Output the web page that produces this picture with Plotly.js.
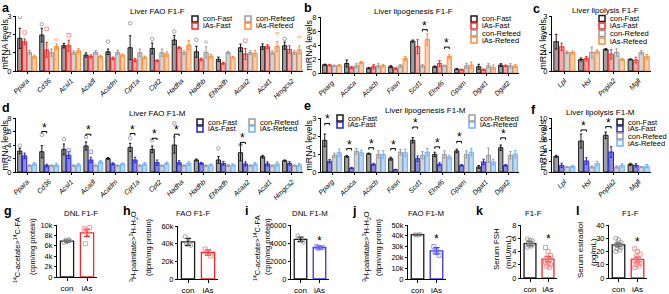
<!DOCTYPE html>
<html><head><meta charset="utf-8">
<script src="https://cdn.plot.ly/plotly-3.0.1.min.js"></script>
<style>html,body{margin:0;padding:0;background:#fff}#chart{width:669px;height:294px}</style>
</head><body><div id="chart"></div>
<script>
// ---------------- DATA ----------------
const genesFAO = ['Ppara','Cd36','Acsl1','Acadl','Acadm','Cpt1a','Cpt2','Hadha','Hadhb','Ehhadh','Acaa2','Acat1','Hmgcs2'];
const genesLipo = ['Pparg','Acaca','Acacb','Fasn','Scd1','Elovl6','Gpam','Dgat1','Dgat2'];
const genesLipol = ['Lpl','Hsl','Pnpla2','Mgll'];
const groupNames = ['con-Fast','iAs-Fast','con-Refeed','iAs-Refeed'];

// a: Liver FAO F1-F
const a_conFast = [1.78,1.96,1.38,0.87,1.05,1.27,1.23,1.69,1.05,0.64,1.27,1.33,1.38];
const a_conFast_se = [0.55,0.37,0.12,0.12,0.15,0.65,0.30,0.25,0.30,0.12,0.20,0.15,0.20];
const a_iasFast = [1.60,1.15,1.38,0.80,0.70,0.60,0.56,1.27,0.64,0.42,0.93,1.33,1.18];
const a_iasFast_se = [0.15,0.40,0.30,0.08,0.06,0.08,0.05,0.05,0.06,0.05,0.30,0.10,0.20];
const a_conRefeed = [1.02,1.00,1.00,1.02,1.02,1.00,1.00,1.00,1.02,1.00,1.00,1.00,1.00];
const a_conRefeed_se = [0.10,0.20,0.10,0.10,0.12,0.20,0.20,0.10,0.30,0.06,0.10,0.10,0.10];
const a_iasRefeed = [0.78,1.33,1.10,0.80,0.87,0.75,0.93,1.42,0.80,0.75,0.96,1.33,1.15];
const a_iasRefeed_se = [0.08,0.15,0.12,0.06,0.06,0.06,0.12,0.25,0.10,0.04,0.15,0.27,0.22];
// a: visible individual points above bars (gene, group index, value)
const a_ptGene = ['Ppara','Ppara','Cd36','Cd36','Cd36','Acsl1','Acadm','Cpt1a','Cpt2','Hadha','Hadhb','Hadhb','Acaa2','Acat1','Hmgcs2','Hmgcs2'];
const a_ptGroup = [0,1,0,1,3,1,0,0,0,0,0,2,1,3,0,3];
const a_ptVal = [2.95,2.1,2.55,2.3,1.7,1.95,1.6,2.6,1.75,2.15,1.7,1.6,1.65,2.05,1.75,1.85];

// b: Liver lipogenesis F1-F
const b_conFast = [1.18,1.36,0.70,0.90,4.56,0.90,0.56,0.90,1.13];
const b_conFast_se = [0.08,0.50,0.10,0.15,0.15,0.10,0.08,0.35,0.20];
const b_iasFast = [1.13,0.80,0.90,0.66,3.76,1.36,0.47,0.47,1.03];
const b_iasFast_se = [0.10,0.15,0.30,0.15,1.00,0.40,0.08,0.10,0.10];
const b_conRefeed = [1.03,1.03,1.03,1.03,1.03,1.03,1.03,1.03,1.03];
const b_conRefeed_se = [0.10,0.30,0.30,0.20,0.20,0.10,0.35,0.30,0.30];
const b_iasRefeed = [1.10,1.50,1.03,2.07,4.80,2.35,1.13,0.80,1.00];
const b_iasRefeed_se = [0.10,0.15,0.20,0.30,0.80,0.25,0.45,0.35,0.20];
const b_sig = [{gene:'Scd1',pair:[2,3],y:6.2},{gene:'Elovl6',pair:[2,3],y:3.7}];

// c: Liver lipolysis F1-F
const c_conFast = [1.60,0.63,1.18,0.63];
const c_conFast_se = [0.40,0.08,0.05,0.03];
const c_iasFast = [1.32,0.69,0.92,0.60];
const c_iasFast_se = [0.20,0.10,0.25,0.15];
const c_conRefeed = [1.01,1.01,1.01,1.01];
const c_conRefeed_se = [0.08,0.30,0.20,0.10];
const c_iasRefeed = [1.01,1.05,0.63,0.78];
const c_iasRefeed_se = [0.08,0.10,0.05,0.12];

// d: Liver FAO F1-M
const d_conFast = [3.10,3.00,3.35,3.85,2.00,3.65,3.35,4.00,1.78,1.78,2.86,2.27,1.68];
const d_conFast_se = [0.40,0.90,0.80,0.60,0.15,0.60,0.50,1.20,0.15,0.50,1.20,0.20,0.10];
const d_iasFast = [2.40,0.95,2.50,1.78,1.20,1.78,1.38,1.38,1.28,1.28,1.20,1.20,1.28];
const d_iasFast_se = [0.40,0.20,0.50,0.40,0.15,0.40,0.40,0.30,0.15,0.30,0.30,0.30,0.25];
const d_conRefeed = [0.95,0.95,0.95,0.95,0.95,0.95,0.95,0.95,0.95,0.95,0.95,0.95,0.95];
const d_conRefeed_se = [0.10,0.10,0.10,0.10,0.10,0.10,0.10,0.10,0.10,0.15,0.10,0.10,0.10];
const d_iasRefeed = [1.20,1.05,1.05,1.50,1.20,1.20,1.28,1.28,1.05,1.05,1.20,1.20,1.05];
const d_iasRefeed_se = [0.20,0.25,0.20,0.20,0.15,0.20,0.20,0.30,0.15,0.15,0.20,0.30,0.20];
const d_sig = [{gene:'Cd36',y:6.0},{gene:'Acadl',y:5.6},{gene:'Cpt1a',y:5.7},{gene:'Cpt2',y:5.0},{gene:'Hadha',y:5.6},{gene:'Acaa2',y:4.4}];
const d_ptGene = ['Ppara','Cd36','Acsl1','Acadl','Cpt1a','Cpt2','Hadha','Ehhadh','Acaa2','Acsl1','Acadl'];
const d_ptGroup = [0,0,0,0,0,0,0,0,0,1,1];
const d_ptVal = [3.9,5.5,4.9,5.2,5.0,4.7,7.2,3.5,4.0,3.2,3.0];

// e: Liver lipogenesis F1-M
const e_conFast = [1.76,0.87,1.02,0.74,1.76,0.98,1.17,0.28,1.35];
const e_conFast_se = [0.35,0.05,0.03,0.08,0.15,0.12,0.10,0.08,0.15];
const e_iasFast = [0.60,0.22,0.43,0.13,0.74,0.43,0.37,0.56,0.37];
const e_iasFast_se = [0.10,0.03,0.06,0.02,0.15,0.08,0.04,0.15,0.04];
const e_conRefeed = [0.93,1.15,0.98,1.10,0.93,0.98,0.98,0.93,0.93];
const e_conRefeed_se = [0.12,0.15,0.20,0.15,0.20,0.20,0.20,0.40,0.20];
const e_iasRefeed = [1.07,1.07,0.98,1.07,1.10,0.83,1.10,0.56,1.00];
const e_iasRefeed_se = [0.20,0.15,0.20,0.20,0.20,0.10,0.20,0.15,0.20];
const e_sig = [{gene:'Pparg',y:2.7},{gene:'Acaca',y:1.3},{gene:'Acacb',y:1.35},{gene:'Fasn',y:1.3},{gene:'Scd1',y:2.5},{gene:'Elovl6',y:1.4},{gene:'Gpam',y:1.7},{gene:'Dgat2',y:1.9}];

// f: Liver lipolysis F1-M
const f_conFast = [2.90,5.74,6.80,1.42];
const f_conFast_se = [0.20,1.30,0.60,0.20];
const f_iasFast = [1.23,2.04,3.70,1.23];
const f_iasFast_se = [0.40,0.60,1.00,0.30];
const f_conRefeed = [0.93,0.93,0.93,0.93];
const f_conRefeed_se = [0.10,0.20,0.20,0.10];
const f_iasRefeed = [1.05,1.54,1.23,1.10];
const f_iasRefeed_se = [0.20,0.40,0.30,0.30];
const f_sig = [{gene:'Hsl',y:7.8},{gene:'Pnpla2',y:8.4}];

// bottom row
const twoGroups = ['con','iAs'];
const g_mean = [6900, 8500], g_se = [200, 700];
const g_conPts = [6600, 6800, 7000, 7100, 7200], g_iasPts = [9300, 8800, 9500, 6400];
const h_mean = [42000, 30000], h_se = [4000, 3000];
const h_conPts = [48000, 43000, 38000, 39000], h_iasPts = [34000, 30000, 26000];
const i_mean = [4400, 3500], i_se = [250, 150];
const i_conPts = [4800, 4400, 4100], i_iasPts = [3600, 3450, 3500, 3450];
const j_mean = [41000, 26000], j_se = [300, 3000];
const j_conPts = [41000, 40800, 41200], j_iasPts = [30000, 26000, 22000, 25000];
const k_mean = [5.2, 2.85], k_se = [0.3, 0.4];
const k_conPts = [5.9,5.7,5.6,5.4,5.3,5.2,5.1,5.0,4.9,4.8,4.6], k_iasPts = [4.6,4.0,3.4,3.0,2.7,2.4,2.2,2.0,1.8,1.6];
const l_mean = [25, 14], l_se = [1.3, 1.8];
const l_conPts = [30,29,27,26,25,25,24,23,22,21,20], l_iasPts = [22,20,18,16,14,13,12,11,10,9,8];

// ---------------- STYLE / LAYOUT ----------------
const W = 669, H = 294;
const FONT = '"Liberation Sans", Arial, Helvetica, sans-serif';
const fx = p => p / W, fy = p => 1 - p / H;
const COL = {conFast:'#1a1a1a', iasFastF:'#ff2424', conRefeed:'#9a9a9a', iasRefeedF:'#ff8a30', iasFastM:'#2525d8', iasRefeedM:'#6cb0ff'};
const FILL = {conFast:'rgba(80,80,80,0.55)', iasFastF:'rgba(255,60,60,0.45)', conRefeed:'rgba(160,160,160,0.45)', iasRefeedF:'rgba(255,150,80,0.45)', iasFastM:'rgba(40,40,220,0.55)', iasRefeedM:'rgba(110,180,255,0.5)'};
const PTC = {conFast:'#8c8c8c', iasFastF:'#ff8080', conRefeed:'#b5b5b5', iasRefeedF:'#ffb070', iasFastM:'#8080ff', iasRefeedM:'#8cc4ff'};
const SYM = ['circle-open','square-open','triangle-up-open','triangle-down-open'];
const keysF = ['conFast','iasFastF','conRefeed','iasRefeedF'];
const keysM = ['conFast','iasFastM','conRefeed','iasRefeedM'];
const OFFS = [-0.33,-0.11,0.11,0.33], BW = 0.19;

const traces = [], shapes = [], annotations = [];
const layout = {width:W, height:H, margin:{l:0,r:0,t:0,b:0}, paper_bgcolor:'#fff', plot_bgcolor:'rgba(0,0,0,0)',
  showlegend:false, barmode:'overlay', font:{family:FONT, color:'#000', size:8}, shapes, annotations};

function ids(n){ return n===1 ? {x:'x',y:'y',xa:'xaxis',ya:'yaxis'} : {x:'x'+n,y:'y'+n,xa:'xaxis'+n,ya:'yaxis'+n}; }
const axBase = {showgrid:false, zeroline:false, showline:true, linecolor:'#000', linewidth:1, ticks:'outside', ticklen:3, tickwidth:1, tickcolor:'#000', fixedrange:true};

function setAxes(n, box, cats, yr, dtick, rotated){
  const a = ids(n);
  layout[a.xa] = Object.assign({}, axBase, {domain:[fx(box[0]), fx(box[1])], range:[-0.5, cats.length-0.5], anchor:a.y,
    tickmode:'array', tickvals:cats.map((_,i)=>i), ticktext:cats,
    tickangle: rotated ? -45 : 0, ticklen: rotated ? 2 : 3,
    tickfont: rotated ? {size:7, family:FONT, style:'italic', color:'#000'} : {size:8, family:FONT, color:'#000'}});
  layout[a.ya] = Object.assign({}, axBase, {domain:[fy(box[3]), fy(box[2])], range:yr, anchor:a.x, tick0:0, dtick:dtick, ticklen:2,
    tickfont:{size:7.5, family:FONT, color:'#000'}});
  return a;
}

function groupPanel(n, box, genes, vals, ses, keys, yr, dtick){
  const a = setAxes(n, box, genes, yr, dtick, true);
  vals.forEach((v,k)=>{
    traces.push({type:'bar', xaxis:a.x, yaxis:a.y, name:groupNames[k], x:genes.map((_,i)=>i+OFFS[k]), y:v, width:BW,
      marker:{color:FILL[keys[k]], line:{color:COL[keys[k]], width:1}},
      error_y:{type:'data', array:ses[k], visible:true, color:COL[keys[k]], thickness:1, width:1.2}});
  });
  return a;
}

function groupPoints(a, genes, ptGene, ptGroup, ptVal, keys){
  [0,1,2,3].forEach(k=>{
    const idx = ptGroup.map((g,j)=>g===k?j:-1).filter(j=>j>=0);
    if (!idx.length) return;
    traces.push({type:'scatter', mode:'markers', xaxis:a.x, yaxis:a.y,
      x: idx.map(j=>genes.indexOf(ptGene[j]) + OFFS[k]), y: idx.map(j=>ptVal[j]),
      marker:{symbol:SYM[k], size:3.5, color:PTC[keys[k]], line:{width:0.8}}});
  });
}

function sig(a, genes, list, yr){
  const h = (yr[1]-yr[0]) * 0.035;
  list.forEach(s=>{
    const pr = s.pair || [0,1];
    const i = genes.indexOf(s.gene);
    const x1 = i + OFFS[pr[0]], x2 = i + OFFS[pr[1]];
    shapes.push({type:'path', xref:a.x, yref:a.y, path:`M${x1},${s.y-h} L${x1},${s.y} L${x2},${s.y} L${x2},${s.y-h}`, line:{color:'#000', width:1}});
    annotations.push({xref:a.x, yref:a.y, x:(x1+x2)/2, y:s.y, text:'*', showarrow:false, yanchor:'bottom', yshift:-5, font:{size:12, color:'#000'}});
  });
}

function twoBarPanel(n, box, mean, se, yr, dtick, colCon, colIas, ptCon, ptIas, conPts, iasPts, star){
  const a = setAxes(n, box, twoGroups, yr, dtick, false);
  const cols = [colCon, colIas];
  [0,1].forEach(i=>{
    traces.push({type:'bar', xaxis:a.x, yaxis:a.y, x:[i], y:[mean[i]], width:0.66,
      marker:{color:'rgba(255,255,255,0)', line:{color:cols[i], width:1.3}},
      error_y:{type:'data', array:[se[i]], visible:true, color:cols[i], thickness:1.3, width:3}});
  });
  const jit = [-0.14, 0.0, 0.14, -0.07, 0.07];
  traces.push({type:'scatter', mode:'markers', xaxis:a.x, yaxis:a.y, x:conPts.map((_,j)=>0+jit[j%5]), y:conPts,
    marker:{symbol:'circle-open', size:4, color:ptCon, line:{width:0.8}}});
  traces.push({type:'scatter', mode:'markers', xaxis:a.x, yaxis:a.y, x:iasPts.map((_,j)=>1+jit[j%5]), y:iasPts,
    marker:{symbol:'square-open', size:4, color:ptIas, line:{width:0.8}}});
  if (star !== undefined) annotations.push({xref:a.x, yref:a.y, x:1, y:star, text:'*', showarrow:false, yanchor:'bottom', yshift:-5, font:{size:12,color:'#000'}});
}

// ---------------- PANELS ----------------
const yrA=[0,3], yrB=[0,8], yrC=[0,3], yrD=[0,8], yrE=[0,3], yrF=[0,10];
const pa = groupPanel(1, [16,303,16,71], genesFAO, [a_conFast,a_iasFast,a_conRefeed,a_iasRefeed], [a_conFast_se,a_iasFast_se,a_conRefeed_se,a_iasRefeed_se], keysF, yrA, 1);
const pb = groupPanel(2, [321,519,17,73], genesLipo, [b_conFast,b_iasFast,b_conRefeed,b_iasRefeed], [b_conFast_se,b_iasFast_se,b_conRefeed_se,b_iasRefeed_se], keysF, yrB, 2);
const pc = groupPanel(3, [552,651,16,71], genesLipol, [c_conFast,c_iasFast,c_conRefeed,c_iasRefeed], [c_conFast_se,c_iasFast_se,c_conRefeed_se,c_iasRefeed_se], keysF, yrC, 1);
const pd = groupPanel(4, [16,303,118,172], genesFAO, [d_conFast,d_iasFast,d_conRefeed,d_iasRefeed], [d_conFast_se,d_iasFast_se,d_conRefeed_se,d_iasRefeed_se], keysM, yrD, 2);
const pe = groupPanel(5, [321,519,118,172], genesLipo, [e_conFast,e_iasFast,e_conRefeed,e_iasRefeed], [e_conFast_se,e_iasFast_se,e_conRefeed_se,e_iasRefeed_se], keysM, yrE, 1);
const pf = groupPanel(6, [552,651,118,172], genesLipol, [f_conFast,f_iasFast,f_conRefeed,f_iasRefeed], [f_conFast_se,f_iasFast_se,f_conRefeed_se,f_iasRefeed_se], keysM, yrF, 2);
groupPoints(pa, genesFAO, a_ptGene, a_ptGroup, a_ptVal, keysF);
groupPoints(pd, genesFAO, d_ptGene, d_ptGroup, d_ptVal, keysM);
sig(pb, genesLipo, b_sig, yrB);
sig(pd, genesFAO, d_sig, yrD);
sig(pe, genesLipo, e_sig, yrE);
sig(pf, genesLipol, f_sig, yrF);

twoBarPanel(7,  [57,97,225,277],   g_mean, g_se, [0,10000], 2000,  '#1a1a1a', '#ff2424', '#8a8a8a', '#ff7a7a', g_conPts, g_iasPts);
twoBarPanel(8,  [178,218,226,279], h_mean, h_se, [0,60000], 20000, '#1a1a1a', '#ff2424', '#8a8a8a', '#ff7a7a', h_conPts, h_iasPts);
twoBarPanel(9,  [291,329,225,279], i_mean, i_se, [0,6000],  2000,  '#1a1a1a', '#3535e0', '#8a8a8a', '#7a7aff', i_conPts, i_iasPts, 3750);
twoBarPanel(10, [408,446,225,279], j_mean, j_se, [0,50000], 10000, '#1a1a1a', '#3535e0', '#8a8a8a', '#7a7aff', j_conPts, j_iasPts, 33000);
twoBarPanel(11, [521,557,225,278], k_mean, k_se, [0,8],     2,     '#1a1a1a', '#ff2424', '#8a8a8a', '#ff7a7a', k_conPts, k_iasPts, 5.3);
twoBarPanel(12, [609,647,225,278], l_mean, l_se, [0,40],    10,    '#1a1a1a', '#ff2424', '#8a8a8a', '#ff7a7a', l_conPts, l_iasPts, 24.5);

// ---------------- TEXT (paper) ----------------
function txt(x, y, text, size, opts){
  annotations.push(Object.assign({xref:'paper', yref:'paper', x:fx(x), y:fy(y), text:text, showarrow:false,
    xanchor:'center', yanchor:'middle', font:{size:size, family:FONT, color:'#000'}}, opts||{}));
}
function ytitle(x, y, text, size){ txt(x, y, text, size||8, {textangle:-90}); }
function letter(x, y, t){ txt(x, y, '<b>'+t+'</b>', 12.5, {xanchor:'left'}); }

letter(0,8,'a'); letter(302,8,'b'); letter(531,9,'c');
letter(0,108,'d'); letter(302,106,'e'); letter(529,110,'f');
letter(2,211,'g'); letter(121,211,'h'); letter(243,211,'i'); letter(350,211,'j'); letter(474,211,'k'); letter(574,211,'l');

txt(157,11,'Liver FAO F1-F',8); txt(413,11,'Liver lipogenesis F1-F',8); txt(605,10.5,'Liver lipolysis F1-F',8);
txt(157,113,'Liver FAO F1-M',8); txt(425,111,'Liver lipogenesis F1-M',8); txt(600,112,'Liver lipolysis F1-M',8);
txt(81,213,'DNL F1-F',7.8); txt(193,213,'FAO F1-F',7.8); txt(310,213,'DNL F1-M',7.8); txt(426,213,'FAO F1-M',7.8); txt(533,213,'F1-F',7.8); txt(630,213,'F1-F',7.8);

ytitle(4.5,44,'mRNA levels',8.8); ytitle(308.5,45,'mRNA levels',8.8); ytitle(542.5,44,'mRNA levels',8.8);
ytitle(4.5,145,'mRNA levels',8.8); ytitle(308.5,145,'mRNA levels',8.8); ytitle(542.5,145,'mRNA levels',8.8);

ytitle(17,250,'<sup>14</sup>C-acetate&gt;<sup>14</sup>C-FA',7.5); ytitle(32,247,'(cpm/mg protein)',7.5);
ytitle(133,247,'<sup>3</sup>H-palmitate&gt;<sup>3</sup>H-H<sub>2</sub>O',7.5); ytitle(148,247,'(dpm/mg protein)',7.5);
ytitle(257,248,'<sup>14</sup>C-acetate&gt;<sup>14</sup>C-FA',7.5); ytitle(267,247,'(cpm/mg protein)',7.5);
ytitle(366,247,'<sup>3</sup>H-palmitate&gt;<sup>3</sup>H-H<sub>2</sub>O',7.5); ytitle(378,247,'(dpm/mg protein)',7.5);
ytitle(496,249,'Serum FSH',8); ytitle(508,252,'(mIU/mL)',8);
ytitle(581,250,'Serum estradiol',8); ytitle(593,252,'(pg/mL)',8);

// ---------------- LEGENDS (drawn keys) ----------------
function legItem(xBox, yc, key, label){
  shapes.push({type:'rect', xref:'paper', yref:'paper', x0:fx(xBox), x1:fx(xBox+6), y0:fy(yc+3), y1:fy(yc-3), line:{color:COL[key], width:1.5}, fillcolor:'#fff'});
  txt(xBox+9, yc, label, 7.5, {xanchor:'left'});
}
// a
legItem(192,19,'conFast','con-Fast'); legItem(192,26,'iasFastF','iAs-Fast');
legItem(245,19,'conRefeed','con-Refeed'); legItem(245,26,'iasRefeedF','iAs-Refeed');
// b
legItem(471,19,'conFast','con-Fast'); legItem(471,26,'iasFastF','iAs-Fast'); legItem(471,33,'conRefeed','con-Refeed'); legItem(471,40,'iasRefeedF','iAs-Refeed');
// c
legItem(599,18.5,'conFast','con-Fast'); legItem(599,26,'iasFastF','iAs-Fast'); legItem(599,33.5,'conRefeed','con-Refeed'); legItem(599,41,'iasRefeedF','iAs-Refeed');
// d
legItem(197,122,'conFast','con-Fast'); legItem(197,129,'iasFastM','iAs-Fast');
legItem(249,122,'conRefeed','con-Refeed'); legItem(249,129,'iasRefeedM','iAs-Refeed');
// e
legItem(337,118,'conFast','con-Fast'); legItem(337,125,'iasFastM','iAs-Fast');
legItem(469,118,'conRefeed','con-Refeed'); legItem(469,125,'iasRefeedM','iAs-Refeed');
// f
legItem(617,122,'conFast','con-Fast'); legItem(617,129,'iasFastM','iAs-Fast'); legItem(617,136,'conRefeed','con-Refeed'); legItem(617,143,'iasRefeedM','iAs-Refeed');

Plotly.newPlot('chart', traces, layout, {staticPlot:true, displayModeBar:false});
</script></body></html>
